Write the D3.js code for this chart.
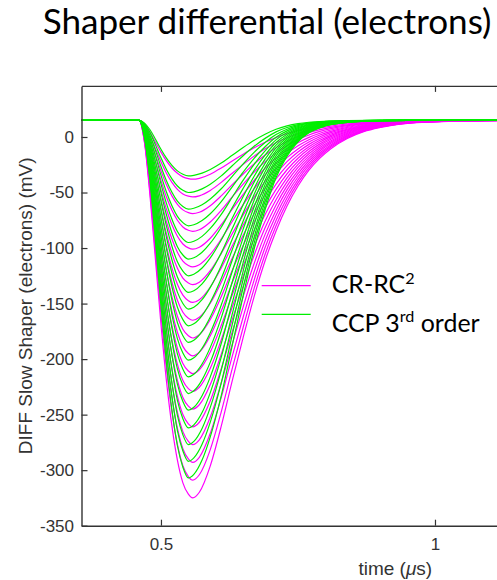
<!DOCTYPE html>
<html><head><meta charset="utf-8">
<script src="https://cdn.jsdelivr.net/npm/d3@7"></script>
<style>html,body{margin:0;padding:0;background:#fff;} svg{display:block}</style>
</head><body>
<svg id="c" width="497" height="580"></svg>
<script>
// ---- data ----
const baselineMV = 15;
// minimum (most negative) value of each CR-RC^2 curve, mV
const crrcMin = [-38, -54, -69, -85, -101, -117, -133, -149, -165, -181, -197, -213, -229, -245, -261, -277, -293, -309, -325];
// minimum value of each CCP 3rd order curve, mV
const ccpMin = [-35, -50, -65, -80, -95, -110, -125, -140, -155, -170, -185, -201, -216, -231, -246, -262, -277, -292, -307];
const crrcTime  = [0.355, 0.46, 0.47, 0.48, 0.49, 0.50, 0.51, 0.52, 0.53, 0.54, 0.55, 0.558, 0.57, 0.59, 0.61, 0.63, 0.65, 0.67, 0.69, 0.71, 0.73, 0.75, 0.77, 0.79, 0.81, 0.84, 0.87, 0.90, 0.95, 1.0, 1.05, 1.1, 1.2, 1.5];
const crrcShape = [0, 0, 0.06, 0.20, 0.37, 0.54, 0.69, 0.81, 0.90, 0.96, 0.99, 1.0, 0.985, 0.915, 0.81, 0.69, 0.575, 0.467, 0.372, 0.293, 0.227, 0.174, 0.132, 0.10, 0.075, 0.048, 0.03, 0.019, 0.008, 0.004, 0.0016, 0.0007, 0.0001, 0];
const ccpTime   = [0.355, 0.46, 0.47, 0.48, 0.49, 0.50, 0.51, 0.52, 0.53, 0.54, 0.55, 0.56, 0.575, 0.59, 0.61, 0.63, 0.65, 0.67, 0.69, 0.71, 0.73, 0.75, 0.77, 0.80, 0.84, 0.90, 0.95, 1.5];
const ccpShape  = [0, 0, 0.05, 0.17, 0.34, 0.52, 0.68, 0.81, 0.91, 0.97, 1.0, 0.99, 0.95, 0.885, 0.77, 0.63, 0.49, 0.36, 0.25, 0.16, 0.10, 0.06, 0.035, 0.016, 0.006, 0.001, 0, 0];
const xTicks = [0.5, 1];
const xTickLabels = ["0.5", "1"];
const yTicks = [0, -50, -100, -150, -200, -250, -300, -350];
const yTickLabels = ["0", "-50", "-100", "-150", "-200", "-250", "-300", "-350"];
const seriesNames = ["CR-RC", "CCP 3"];
const titleText = "Shaper differential (electrons)";
const yLabelText = "DIFF Slow Shaper (electrons) (mV)";

// ---- layout ----
const svg = d3.select("#c");
const L = 81.5, R = 709, T = 85.9, B = 525.7;
const x = d3.scaleLinear().domain([0.355, 1.5]).range([L, R]);
const y = d3.scaleLinear().domain([-350, 46]).range([B, T]);
const axisColor = "#333";
const MAG = "#ff00ff", GRN = "#00ee00";

function curvePoints(times, shape, minV) {
  return times.map((t, i) => [t, baselineMV + (minV - baselineMV) * shape[i]]);
}
const line = d3.line().x(d => x(d[0])).y(d => y(d[1])).curve(d3.curveMonotoneX);

svg.append("defs").append("clipPath").attr("id", "clip")
  .append("rect").attr("x", L).attr("y", T).attr("width", R - L).attr("height", B - T);

const plot = svg.append("g").attr("clip-path", "url(#clip)");
plot.selectAll("path.crrc").data(crrcMin).enter().append("path")
  .attr("class", "crrc").attr("fill", "none").attr("stroke", MAG).attr("stroke-width", 1.2)
  .attr("d", m => line(curvePoints(crrcTime, crrcShape, m)));
plot.selectAll("path.ccp").data(ccpMin).enter().append("path")
  .attr("class", "ccp").attr("fill", "none").attr("stroke", GRN).attr("stroke-width", 1.2)
  .attr("d", m => line(curvePoints(ccpTime, ccpShape, m)));

// ---- axes ----
const font = "'Liberation Sans', Arial, sans-serif";
const yAxis = d3.axisLeft(y).tickValues(yTicks).tickFormat((d, i) => yTickLabels[i])
  .tickSizeInner(-6).tickSizeOuter(0).tickPadding(7.5);
const gy = svg.append("g").attr("transform", `translate(${L},0)`).call(yAxis);
const xAxis = d3.axisBottom(x).tickValues(xTicks).tickFormat((d, i) => xTickLabels[i])
  .tickSizeInner(-6).tickSizeOuter(0).tickPadding(12);
const gx = svg.append("g").attr("transform", `translate(0,${B})`).call(xAxis);
const xTop = d3.axisTop(x).tickValues(xTicks).tickFormat("").tickSizeInner(-6).tickSizeOuter(0);
const gt = svg.append("g").attr("transform", `translate(0,${T})`).call(xTop);
[gy, gx, gt].forEach(g => {
  g.selectAll("path.domain").attr("stroke", axisColor).attr("stroke-width", 1.4);
  g.selectAll(".tick line").attr("stroke", axisColor).attr("stroke-width", 1.2);
  g.selectAll(".tick text").attr("fill", axisColor).style("font-family", font).style("font-size", "17px");
});

// axis labels
svg.append("text").attr("transform", `translate(32,${(T + B) / 2}) rotate(-90)`)
  .attr("text-anchor", "middle").attr("fill", axisColor)
  .style("font-family", font).style("font-size", "19px").text(yLabelText);
const xl = svg.append("text").attr("x", (L + R) / 2).attr("y", 575).attr("text-anchor", "middle")
  .attr("fill", axisColor).style("font-family", font).style("font-size", "19px");
xl.append("tspan").text("time (");
xl.append("tspan").style("font-style", "italic").text("\u03bc");
xl.append("tspan").text("s)");

// ---- title ----
const tfont = "Lato, 'Open Sans', sans-serif";
const title = svg.append("text").attr("x", 42.7).attr("y", 34).attr("fill", "#000")
  .style("font-family", tfont).style("font-size", "30px").text(titleText);
{
  const w = title.node().getComputedTextLength();
  title.style("font-size", (30 * 449 / w) + "px");
}

// ---- legend ----
const legX1 = 261.7, legX2 = 310.7;
svg.append("line").attr("x1", legX1).attr("x2", legX2).attr("y1", 285.7).attr("y2", 285.7)
  .attr("stroke", MAG).attr("stroke-width", 1.3);
svg.append("line").attr("x1", legX1).attr("x2", legX2).attr("y1", 314.3).attr("y2", 314.3)
  .attr("stroke", GRN).attr("stroke-width", 1.3);

const legSize = 24;
const t1 = svg.append("text").attr("x", 331.7).attr("y", 293.3).attr("fill", "#000")
  .style("font-family", tfont).style("font-size", legSize + "px");
t1.append("tspan").text(seriesNames[0]);
t1.append("tspan").attr("dy", -legSize * 0.38).style("font-size", (legSize * 0.65) + "px").text("2");
const t2 = svg.append("text").attr("x", 331.7).attr("y", 331.5).attr("fill", "#000")
  .style("font-family", tfont).style("font-size", legSize + "px");
t2.append("tspan").text(seriesNames[1]);
t2.append("tspan").attr("dy", -legSize * 0.38).style("font-size", (legSize * 0.65) + "px").text("rd");
t2.append("tspan").attr("dy", legSize * 0.38).text(" order");
{
  const w = t2.node().getComputedTextLength();
  const s = legSize * 148 / w;
  [t1, t2].forEach(t => {
    t.style("font-size", s + "px");
  });
  t1.selectAll("tspan").filter((d, i) => i === 1).attr("dy", -s * 0.38).style("font-size", (s * 0.65) + "px");
  t2.selectAll("tspan").each(function (d, i) {
    if (i === 1) d3.select(this).attr("dy", -s * 0.38).style("font-size", (s * 0.65) + "px");
    if (i === 2) d3.select(this).attr("dy", s * 0.38);
  });
}
</script>
</body></html>
